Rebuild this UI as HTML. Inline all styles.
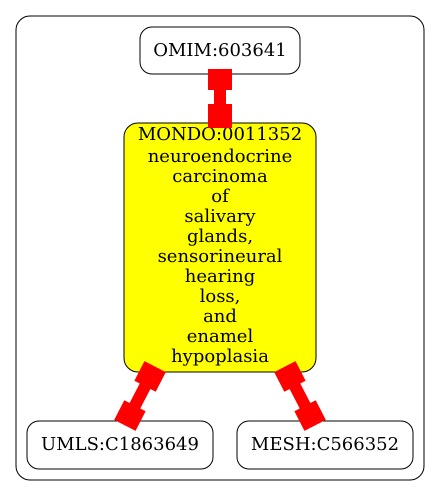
<!DOCTYPE html>
<html><head><style>body{margin:0;background:#fff}svg{display:block}text{font-family:"DejaVu Serif","Liberation Serif",serif;font-size:18px;fill:#000}</style></head>
<body>
<svg width="440" height="496" viewBox="0 0 440 496" xmlns="http://www.w3.org/2000/svg">
<rect x="16" y="16" width="408" height="464" rx="14" fill="#fff" stroke="#000" stroke-width="1"/>
<rect x="140" y="27" width="160" height="47" rx="12" fill="#fff" stroke="#000"/>
<text x="220" y="56" text-anchor="middle">OMIM:603641</text>
<rect x="124" y="123" width="192" height="249" rx="14" fill="#ff0" stroke="#000"/>
<g text-anchor="middle">
<text x="220" y="140">MONDO:0011352</text>
<text x="220" y="162">neuroendocrine</text>
<text x="220" y="182">carcinoma</text>
<text x="220" y="202">of</text>
<text x="220" y="222">salivary</text>
<text x="220" y="242">glands,</text>
<text x="220" y="262">sensorineural</text>
<text x="220" y="282">hearing</text>
<text x="220" y="302">loss,</text>
<text x="220" y="322">and</text>
<text x="220" y="342">enamel</text>
<text x="220" y="362">hypoplasia</text>
</g>
<rect x="27" y="421" width="186" height="48" rx="12" fill="#fff" stroke="#000"/>
<text x="120" y="450" text-anchor="middle">UMLS:C1863649</text>
<rect x="237" y="421" width="176" height="48" rx="12" fill="#fff" stroke="#000"/>
<text x="325" y="450" text-anchor="middle">MESH:C566352</text>
<g fill="#f00">
<rect x="208" y="69" width="24" height="21"/><rect x="214" y="89" width="12" height="16"/><rect x="208" y="104" width="24" height="24"/>
</g>
<g fill="#f00" transform="translate(140,396) rotate(27.3)">
<rect x="-12" y="-33" width="24" height="22"/><rect x="-6" y="-12" width="12" height="24"/><rect x="-12" y="11" width="24" height="22"/>
</g>
<g fill="#f00" transform="translate(300,396) rotate(-27.3)">
<rect x="-12" y="-33" width="24" height="22"/><rect x="-6" y="-12" width="12" height="24"/><rect x="-12" y="11" width="24" height="22"/>
</g>
</svg>
</body></html>
